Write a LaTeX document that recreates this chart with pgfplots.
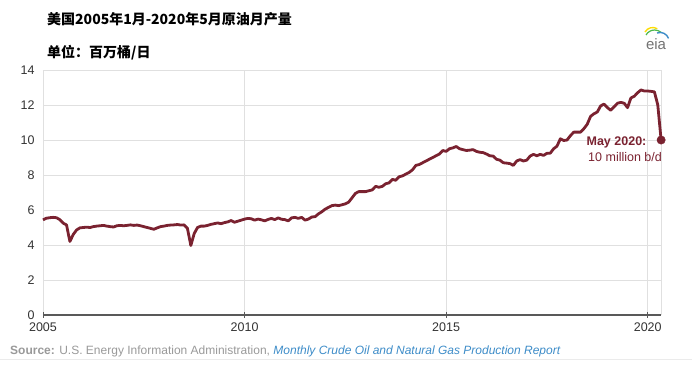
\documentclass[border=0pt]{standalone}
\usepackage{pgfplots}
\pgfplotsset{compat=1.18}
\usepackage{pgfplotstable}
\usepackage{fontspec}
\setmainfont{Liberation Sans}
\newfontfamily\cjk{Noto Sans CJK SC}
\definecolor{oil}{HTML}{7A2230}
\definecolor{tick}{HTML}{333333}
\definecolor{grid}{HTML}{E0E0E0}
\definecolor{src}{HTML}{999999}
\definecolor{link}{HTML}{3D8CC8}
\pgfplotstableread{
x y
2005.000 5.44
2005.083 5.53
2005.167 5.56
2005.250 5.58
2005.333 5.56
2005.417 5.45
2005.500 5.25
2005.583 5.15
2005.667 4.20
2005.750 4.60
2005.833 4.86
2005.917 4.98
2006.000 5.00
2006.083 5.02
2006.167 5.00
2006.250 5.05
2006.333 5.08
2006.417 5.10
2006.500 5.12
2006.583 5.08
2006.667 5.05
2006.750 5.03
2006.833 5.10
2006.917 5.12
2007.000 5.10
2007.083 5.12
2007.167 5.15
2007.250 5.12
2007.333 5.14
2007.417 5.10
2007.500 5.05
2007.583 5.00
2007.667 4.95
2007.750 4.90
2007.833 4.98
2007.917 5.05
2008.000 5.08
2008.083 5.12
2008.167 5.14
2008.250 5.15
2008.333 5.17
2008.417 5.14
2008.500 5.15
2008.583 4.95
2008.667 3.97
2008.750 4.65
2008.833 5.00
2008.917 5.08
2009.000 5.08
2009.083 5.12
2009.167 5.18
2009.250 5.22
2009.333 5.26
2009.417 5.22
2009.500 5.28
2009.583 5.32
2009.667 5.40
2009.750 5.30
2009.833 5.36
2009.917 5.42
2010.000 5.48
2010.083 5.52
2010.167 5.50
2010.250 5.42
2010.333 5.48
2010.417 5.44
2010.500 5.38
2010.583 5.46
2010.667 5.52
2010.750 5.45
2010.833 5.55
2010.917 5.47
2011.000 5.45
2011.083 5.38
2011.167 5.55
2011.250 5.58
2011.333 5.52
2011.417 5.58
2011.500 5.42
2011.583 5.48
2011.667 5.60
2011.750 5.62
2011.833 5.78
2011.917 5.90
2012.000 6.05
2012.083 6.15
2012.167 6.25
2012.250 6.28
2012.333 6.25
2012.417 6.30
2012.500 6.35
2012.583 6.45
2012.667 6.70
2012.750 6.95
2012.833 7.05
2012.917 7.05
2013.000 7.05
2013.083 7.10
2013.167 7.15
2013.250 7.35
2013.333 7.30
2013.417 7.35
2013.500 7.50
2013.583 7.55
2013.667 7.75
2013.750 7.70
2013.833 7.90
2013.917 7.95
2014.000 8.05
2014.083 8.15
2014.167 8.30
2014.250 8.55
2014.333 8.60
2014.417 8.70
2014.500 8.80
2014.583 8.90
2014.667 9.00
2014.750 9.10
2014.833 9.20
2014.917 9.40
2015.000 9.35
2015.083 9.50
2015.167 9.55
2015.250 9.63
2015.333 9.50
2015.417 9.45
2015.500 9.40
2015.583 9.42
2015.667 9.45
2015.750 9.35
2015.833 9.30
2015.917 9.28
2016.000 9.20
2016.083 9.10
2016.167 9.08
2016.250 8.90
2016.333 8.85
2016.417 8.70
2016.500 8.68
2016.583 8.65
2016.667 8.55
2016.750 8.80
2016.833 8.88
2016.917 8.80
2017.000 8.85
2017.083 9.08
2017.167 9.18
2017.250 9.10
2017.333 9.18
2017.417 9.12
2017.500 9.24
2017.583 9.25
2017.667 9.50
2017.750 9.65
2017.833 10.07
2017.917 9.97
2018.000 10.00
2018.083 10.25
2018.167 10.45
2018.250 10.45
2018.333 10.45
2018.417 10.65
2018.500 10.90
2018.583 11.35
2018.667 11.50
2018.750 11.60
2018.833 11.95
2018.917 12.05
2019.000 11.85
2019.083 11.70
2019.167 11.90
2019.250 12.10
2019.333 12.15
2019.417 12.10
2019.500 11.85
2019.583 12.40
2019.667 12.50
2019.750 12.70
2019.833 12.86
2019.917 12.80
2020.000 12.80
2020.083 12.78
2020.167 12.75
2020.250 12.00
2020.333 10.00
}\oildata
\begin{document}
\begin{tikzpicture}
\useasboundingbox (0pt,0pt) rectangle (692pt,365pt);
\node[anchor=base west,font=\cjk\bfseries\fontsize{14}{16}\selectfont,inner sep=0] at (47pt,340pt) {美国2005年1月-2020年5月原油月产量};
\node[anchor=base west,font=\cjk\bfseries\fontsize{14}{16}\selectfont,inner sep=0] at (47pt,308pt) {单位：百万桶/日};
% eia logo
\node[anchor=base,font=\fontsize{15}{17}\selectfont,text=black!55,inner sep=0] at (656pt,316pt) {eia};
\draw[yellow!80!orange,line width=1.4pt] (645pt,333pt) arc[start angle=150,end angle=60,radius=9pt];
\draw[green!60!black!70,line width=1.2pt] (646pt,330pt) arc[start angle=150,end angle=50,radius=10pt];
\draw[link,line width=1.4pt] (657pt,332pt) arc[start angle=110,end angle=20,radius=9pt];
\begin{axis}[
  at={(43pt,50pt)}, anchor=south west,
  scale only axis, width=618pt, height=245pt,
  xmin=2005, xmax=2020.33, ymin=0, ymax=14,
  xtick={2005,2010,2015,2020},
  xticklabels={2005,2010,2015,2020},
  ytick={0,2,...,14},
  grid=major, major grid style={draw=grid,line width=0.9pt},
  axis line style={grid,line width=0.9pt},
  axis x line*=bottom, axis y line*=left,
  tick style={draw=none},
  ticklabel style={font=\fontsize{12.5}{14}\selectfont,text=tick},
  xticklabel style={yshift=-4pt},
  yticklabel style={xshift=-5pt},
  /pgf/number format/assume math mode=true,
  clip=false,
]
\draw[grid,line width=0.9pt] (axis cs:2005,14) -- (axis cs:2020.33,14) -- (axis cs:2020.33,0);
\addplot[oil,line width=2.8pt,line join=round,mark=none] table[x=x,y=y] {\oildata};
\addplot[oil,only marks,mark=*,mark size=4.2pt] coordinates {(2020.333,10.00)};
\draw[black!65,line width=2pt] (axis cs:2005,0) -- (axis cs:2020.33,0);
\draw[black!65,line width=0.8pt] (axis cs:2005,-0.17) -- (axis cs:2005,0.17);
\draw[black!65,line width=0.8pt] (axis cs:2010,-0.17) -- (axis cs:2010,0.17);
\draw[black!65,line width=0.8pt] (axis cs:2015,-0.17) -- (axis cs:2015,0.17);
\draw[black!65,line width=0.8pt] (axis cs:2020,-0.17) -- (axis cs:2020,0.17);
\node[anchor=base west,inner sep=0,text=oil,font=\bfseries\fontsize{12.5}{14}\selectfont] at (axis cs:2018.48,9.7) {May 2020:};
\node[anchor=base west,inner sep=0,text=oil,font=\fontsize{12.5}{14}\selectfont] at (axis cs:2018.52,8.8) {10 million b/d};
\end{axis}
\node[anchor=base west,inner sep=0,font=\fontsize{12}{14}\selectfont,text=src] at (10pt,11pt) {\textbf{Source:} U.S. Energy Information Administration, \textcolor{link}{\itshape Monthly Crude Oil and Natural Gas Production Report}};
\draw[black!8,line width=0.8pt] (0pt,6pt) -- (692pt,6pt);
\end{tikzpicture}
\end{document}
